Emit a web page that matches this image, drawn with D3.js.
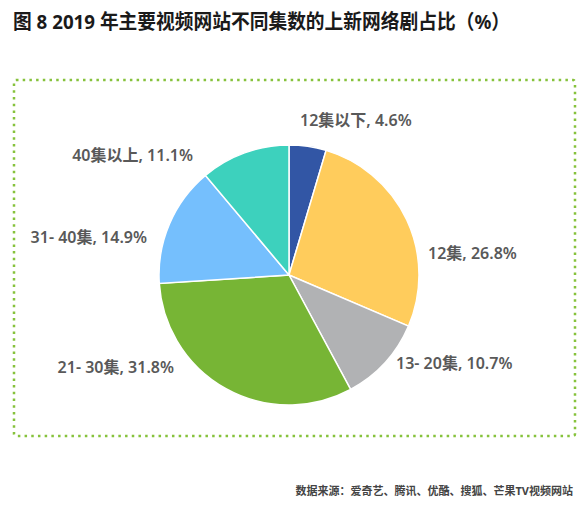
<!DOCTYPE html>
<html>
<head>
<meta charset="utf-8">
<script src="https://cdn.jsdelivr.net/npm/d3@7"></script>
<style>
  body { margin: 0; background: #fff; }
  text { font-family: "Noto Sans", "Noto Sans CJK SC", sans-serif; }
</style>
</head>
<body>
<div id="chart"></div>
<script>
var categories = ["12集以下", "12集", "13- 20集", "21- 30集", "31- 40集", "40集以上"];
var shares = [4.6, 26.8, 10.7, 31.8, 14.9, 11.1];
var slice_color = ["#3256a5", "#ffcc5c", "#b1b2b4", "#77b535", "#75bffd", "#3dd1bd"];

// where each label sits (x, y, anchor) - picked by eye, like excel "best fit"
var label_pos = [
    [300, 120, "start"],
    [428, 253, "start"],
    [396, 363, "start"],
    [174, 367, "end"],
    [147, 237, "end"],
    [193, 155, "end"]
];

var width = 588, height = 507;
var cx = 289, cy = 275, r = 130;

var svg = d3.select('#chart')
            .append('svg')
            .attr('width', width)
            .attr('height', height);

// title
svg.append('text')
    .attr('x', 13)
    .attr('y', 29)
    .attr('textLength', 497)
    .attr('lengthAdjust', 'spacingAndGlyphs')
    .style('font-size', '20px')
    .style('font-weight', 'bold')
    .style('fill', '#1a1a1a')
    .text('图 8 2019 年主要视频网站不同集数的上新网络剧占比（%）');

// dotted frame
svg.append('rect')
    .attr('x', 14)
    .attr('y', 80)
    .attr('width', 561)
    .attr('height', 356)
    .attr('rx', 2)
    .style('fill', 'none')
    .style('stroke', '#86c23c')
    .style('stroke-width', 2.5)
    .style('stroke-dasharray', '2.5,4.2');

var data = categories.map(function(c, i){
    return {name: c, value: shares[i], color: slice_color[i]};
});

var pie = d3.pie().sort(null).value(d => d.value);
var arc = d3.arc().innerRadius(0).outerRadius(r);

var g = svg.append('g').attr('transform', 'translate(' + cx + ',' + cy + ')');

g.selectAll('path')
    .data(pie(data))
    .enter()
    .append('path')
    .attr('d', arc)
    .style('fill', d => d.data.color)
    .style('stroke', '#fff')
    .style('stroke-width', 1.5);

svg.selectAll('text.lbl')
    .data(data)
    .enter()
    .append('text')
    .attr('class', 'lbl')
    .attr('x', (d, i) => label_pos[i][0])
    .attr('y', (d, i) => label_pos[i][1])
    .attr('dy', '0.35em')
    .attr('text-anchor', (d, i) => label_pos[i][2])
    .style('font-size', '16px')
    .style('font-weight', 600)
    .style('fill', '#595959')
    .text(d => d.name + ', ' + d.value.toFixed(1) + '%');

// source note
svg.append('text')
    .attr('x', 573)
    .attr('y', 495)
    .attr('text-anchor', 'end')
    .style('font-size', '11px')
    .style('font-weight', 'bold')
    .style('fill', '#444')
    .text('数据来源：爱奇艺、腾讯、优酷、搜狐、芒果TV视频网站');
</script>
</body>
</html>
